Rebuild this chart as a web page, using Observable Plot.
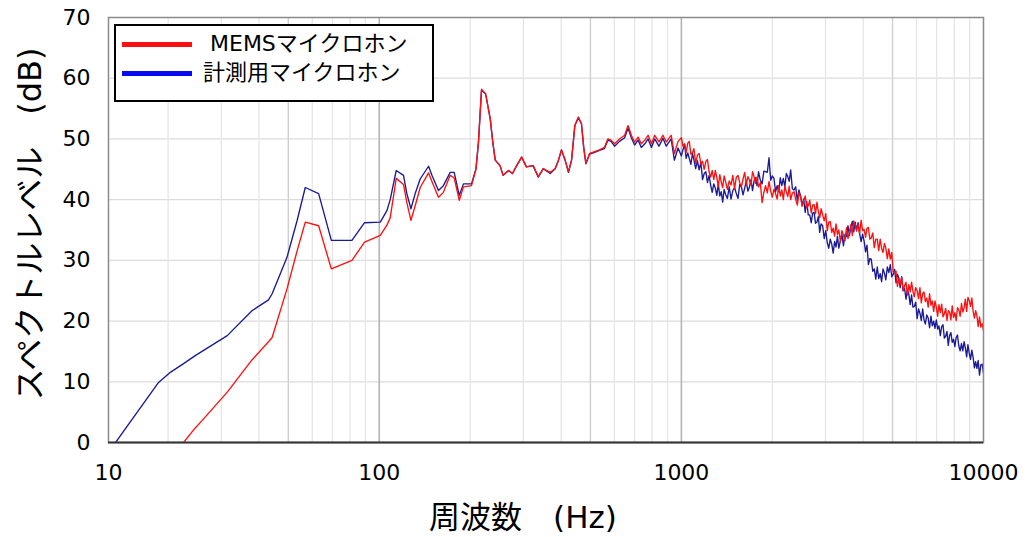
<!DOCTYPE html>
<html><head><meta charset="utf-8">
<script src="https://cdn.jsdelivr.net/npm/d3@7"></script>
<script src="https://cdn.jsdelivr.net/npm/@observablehq/plot@0.6"></script>
<style>
body{margin:0;background:#fff;}
#wrap{position:relative;width:1025px;height:537px;}
#legend{position:absolute;left:114px;top:24px;width:316px;height:74px;border:2px solid #000;background:#fff;font-family:"DejaVu Sans","Noto Sans CJK JP",sans-serif;font-size:22px;color:#000;}
.sw{position:absolute;left:6px;width:70px;height:5px;}
.lt{position:absolute;left:87px;white-space:pre;line-height:1;}
</style></head>
<body><div id="wrap"></div>
<script>
// ---- data ----
const seriesNames = ["MEMSマイクロホン", "計測用マイクロホン"];
const seriesColors = ["#ff1010", "#1a1a96"];
const legendColors = ["#ff1010", "#0a0af0"];
const xTicks = [12.7, 100, 1000, 10000];
const xTickLabels = ["10", "100", "1000", "10000"];
const yTicks = [0, 10, 20, 30, 40, 50, 60, 70];
const gridMinor = [20,30,40,60,70,80,90,200,300,400,600,700,800,900,2000,3000,4000,6000,7000,8000,9000];
const gridMid = [50, 500, 5000];
const gridMajor = [100, 1000];

// frequencies below 1 kHz (Hz)
const freqLow = [13.4,18.6,20.4,22.5,24.6,25.9,31.4,37.9,43.0,44.2,49.5,53.5,56.9,63.0,69.4,81.2,89.4,100.8,106,108.7,
113.8,120.3,123.4,127.3,131.5,136.6,145.6,149.4,157,163,171.7,177,184,190,202,209,213,218,225,233,
237.5,242,251,257,268,276,285,296,307,323,336,349,368,382,392,401,412,423,433,444,
456,467,475,483,497,516,536,556,571,585,601,624,649,666,683,700,719,737,757,776,
796,816,843,869,891,925,948,975];
const memsLow = [null,null,null,0,2.4,3.6,8.3,13.6,16.6,17.3,25.3,31.6,36.3,35.7,28.6,30.0,33.0,34.1,35.8,37.0,
43.5,42.5,39.5,36.6,39.0,42.0,44.4,43.0,40.4,41.2,44.0,43.6,39.9,42.1,42.3,45.0,49.5,58.2,57.4,53.3,
49.5,46.5,45.6,44.0,44.8,44.3,45.6,47.0,45.4,45.6,43.8,45.1,44.5,45.1,46.5,48.2,46.6,44.6,46.5,52.2,
53.6,52.5,48.6,46.0,47.6,47.9,48.2,48.6,50.0,49.8,49.2,50.0,50.6,52.2,50.6,49.5,50.3,49.2,49.8,50.6,
49.2,50.6,49.5,50.6,49.5,50.6,47.6,49.6];
const refLow = [0,9.9,11.6,13.0,14.3,15.0,17.6,21.7,23.5,24.5,30.5,36.6,42.0,41.0,33.3,33.3,36.2,36.3,38.2,40.0,
44.8,44.0,41.0,38.5,41.0,43.4,45.5,44.0,41.5,42.3,44.5,44.5,40.7,42.6,42.6,45.1,49.5,58.0,57.4,53.3,
49.5,46.5,45.6,44.0,44.8,44.3,45.6,47.0,45.4,45.6,43.7,45.1,44.3,45.1,46.5,48.2,46.5,44.5,46.5,52.2,
53.5,52.5,48.6,45.9,47.5,47.8,48.1,48.4,49.8,49.6,48.8,49.6,50.2,51.8,50.2,49.0,49.8,48.6,49.2,50.0,
48.6,50.0,48.8,50.1,48.8,50.0,46.5,48.5];

// frequencies from 1 kHz to 10 kHz (Hz)
const freqHigh = [1000,1012,1025,1037,1050,1062,1075,1088,1100,1115,
1130,1145,1160,1175,1190,1205,1220,1235,1250,1265,
1280,1295,1310,1325,1340,1355,1370,1385,1400,1420,
1440,1460,1480,1500,1520,1540,1560,1580,1600,1620,
1640,1660,1680,1700,1720,1740,1760,1780,1800,1825,
1850,1875,1900,1925,1950,1975,2000,2025,2050,2075,
2100,2125,2150,2175,2200,2225,2250,2275,2300,2330,
2360,2390,2420,2450,2480,2510,2540,2570,2600,2630,
2660,2690,2720,2750,2780,2810,2840,2870,2900,2935,
2970,3005,3040,3075,3110,3145,3180,3215,3250,3285,
3320,3360,3400,3440,3480,3520,3560,3600,3640,3680,
3720,3760,3800,3845,3890,3935,3980,4025,4070,4115,
4160,4205,4250,4300,4350,4400,4450,4500,4550,4600,
4650,4700,4750,4805,4860,4915,4970,5025,5080,5135,
5190,5245,5300,5360,5420,5480,5540,5600,5660,5720,
5780,5840,5900,5965,6030,6095,6160,6225,6290,6355,
6420,6490,6560,6630,6700,6770,6840,6910,6980,7050,
7120,7195,7270,7345,7420,7495,7570,7645,7720,7800,
7880,7960,8040,8120,8200,8285,8370,8455,8540,8625,
8710,8795,8880,8970,9060,9150,9240,9330,9420,9510,
9600,9700,9800,9900,10000];
const memsHigh = [50.2,48.8,49.2,47.8,49.3,49.6,47.5,47.7,48.4,46.0,
47.3,47.6,45.9,46.3,45.0,46.3,46.6,44.6,43.7,44.8,
43.3,44.8,43.7,42.1,44.1,42.9,42.0,43.9,43.0,41.7,
43.1,42.4,44.0,41.8,43.7,44.0,42.8,42.1,43.4,44.5,
42.5,43.8,43.2,42.4,44.6,43.8,42.7,43.7,42.1,42.8,
39.5,41.2,42.3,41.1,43.0,41.4,40.4,41.7,41.0,40.1,
42.3,40.6,41.6,40.0,42.2,41.3,40.5,42.2,40.0,41.1,
41.3,40.0,39.1,41.1,40.5,38.9,39.8,40.6,38.7,39.0,
39.9,37.8,39.1,39.2,37.7,39.6,38.0,37.0,38.5,37.5,
36.5,37.7,34.9,36.3,36.4,34.6,35.3,34.0,36.0,34.3,
35.0,33.1,34.9,34.1,33.2,35.4,33.6,34.6,35.9,34.1,
36.5,35.8,34.8,36.0,34.4,36.6,34.9,35.1,33.8,35.3,
35.4,33.5,33.7,34.5,32.1,33.5,33.5,31.6,33.5,32.0,
31.3,32.8,32.0,30.3,31.9,30.2,31.3,28.1,28.0,28.2,
25.7,27.0,26.0,27.2,25.0,25.8,26.4,24.3,26.0,24.8,
26.4,24.9,24.0,25.5,25.0,23.7,25.5,23.0,24.5,24.8,
23.2,23.8,22.3,24.5,22.6,23.3,21.6,23.3,22.3,20.8,
22.7,21.4,22.8,20.7,21.2,22.1,20.1,21.7,21.5,20.2,
22.5,20.6,21.4,20.1,22.2,21.9,20.8,22.9,21.5,22.2,
23.6,21.6,23.9,23.4,22.4,23.8,21.6,20.5,21.7,20.9,
19.1,20.7,19.0,19.6,18.4];
const refHigh = [47.2,48.2,49.1,46.8,47.7,46.8,45.8,47.6,46.6,45.1,
46.4,44.9,46.2,43.3,44.3,44.6,42.8,44.0,42.4,41.2,
42.6,41.9,40.7,42.6,40.6,41.3,39.6,41.7,40.9,40.2,
42.1,40.1,41.5,42.0,41.0,40.2,42.5,42.1,40.8,41.9,
43.0,41.4,42.1,43.3,41.5,43.1,43.6,42.3,44.6,43.2,
42.6,44.7,44.6,44.5,46.9,43.2,43.9,43.5,41.3,42.3,
41.3,43.6,42.3,43.5,42.1,44.3,43.8,43.0,44.9,41.8,
41.6,42.1,39.8,41.6,40.6,39.1,40.1,37.9,39.7,37.5,
37.5,36.2,37.8,37.9,36.1,36.3,37.2,34.6,36.0,35.7,
33.6,34.9,32.9,32.0,33.5,32.7,31.2,33.1,32.2,34.0,
32.0,33.2,34.2,32.4,34.3,33.9,35.7,34.1,35.5,36.4,
34.7,36.3,35.0,36.2,34.4,33.1,34.3,33.2,31.4,32.5,
29.3,30.3,30.2,28.2,28.6,26.9,28.9,27.0,27.8,26.5,
28.6,27.9,26.8,28.9,28.0,29.3,27.3,27.7,28.5,26.3,
27.7,27.1,25.5,27.3,25.0,25.4,23.6,25.2,24.4,22.7,
24.3,22.3,22.4,23.1,20.4,22.0,21.3,20.1,22.0,20.2,
19.5,21.0,20.5,18.9,20.8,19.2,20.0,18.8,20.2,18.7,
19.2,17.6,19.1,19.4,17.2,17.5,18.3,16.0,17.6,18.1,
16.5,17.0,15.8,17.3,17.7,15.9,15.1,16.3,15.1,16.6,
15.6,14.1,16.1,14.7,13.7,15.2,14.0,12.3,13.3,12.2,
13.5,11.1,12.8,12.9,11.4];

const freq = freqLow.concat(freqHigh);
const mems = memsLow.concat(memsHigh);
const ref = refLow.concat(refHigh);
const data = freq.map((f, i) => ({f, mems: mems[i], ref: ref[i]}));
const tickLabel = new Map(xTicks.map((t, i) => [t, xTickLabels[i]]));

const chart = Plot.plot({
  width: 1025,
  height: 537,
  marginTop: 17,
  marginBottom: 95,
  marginLeft: 108,
  marginRight: 42,
  style: {fontFamily: "'DejaVu Sans','Noto Sans CJK JP',sans-serif", color: "#000", background: "#fff"},
  x: {type: "log", domain: [12.7, 10000]},
  y: {domain: [0, 70]},
  marks: [
    Plot.ruleY(yTicks.slice(1, -1), {stroke: "#dcdcdc", strokeWidth: 1.2}),
    Plot.ruleX(gridMinor, {stroke: "#e4e4e4", strokeWidth: 1.2}),
    Plot.ruleX(gridMid, {stroke: "#cfcfcf", strokeWidth: 1.4}),
    Plot.ruleX(gridMajor, {stroke: "#b4b4b4", strokeWidth: 1.6}),
    Plot.line(data, {x: "f", y: "ref", stroke: seriesColors[1], strokeWidth: 1.35, clip: true}),
    Plot.line(data, {x: "f", y: "mems", stroke: seriesColors[0], strokeWidth: 1.35, clip: true}),
    Plot.frame({stroke: "#8a8a8a", strokeWidth: 1.5}),
    Plot.ruleY([0], {stroke: "#333", strokeWidth: 2}),
    Plot.axisX({ticks: xTicks, tickFormat: d => tickLabel.get(d), tickSize: 0, tickPadding: 22, fontSize: 22, label: null}),
    Plot.axisY({ticks: yTicks, tickSize: 0, tickPadding: 18, fontSize: 22, label: null}),
    Plot.text(["周波数　(Hz)"], {frameAnchor: "bottom", textAnchor: "middle", lineAnchor: "middle", dx: -23, dy: 76, fontSize: 31, fill: "#000"}),
    Plot.text(["スペクトルレベル　(dB)"], {frameAnchor: "left", textAnchor: "middle", lineAnchor: "middle", dx: -78, dy: -6, rotate: -90, fontSize: 32, fill: "#000"})
  ]
});
const wrap = document.getElementById("wrap");
wrap.appendChild(chart);

const legend = document.createElement("div");
legend.id = "legend";
const rows = [{y: 18, label: " " + seriesNames[0], c: legendColors[0]}, {y: 47, label: seriesNames[1], c: legendColors[1]}];
rows.forEach(r => {
  const sw = document.createElement("div");
  sw.className = "sw";
  sw.style.top = (r.y - 2.5) + "px";
  sw.style.background = r.c;
  legend.appendChild(sw);
  const t = document.createElement("div");
  t.className = "lt";
  t.style.top = (r.y - 11) + "px";
  t.textContent = r.label;
  legend.appendChild(t);
});
wrap.appendChild(legend);
</script>
</body></html>
